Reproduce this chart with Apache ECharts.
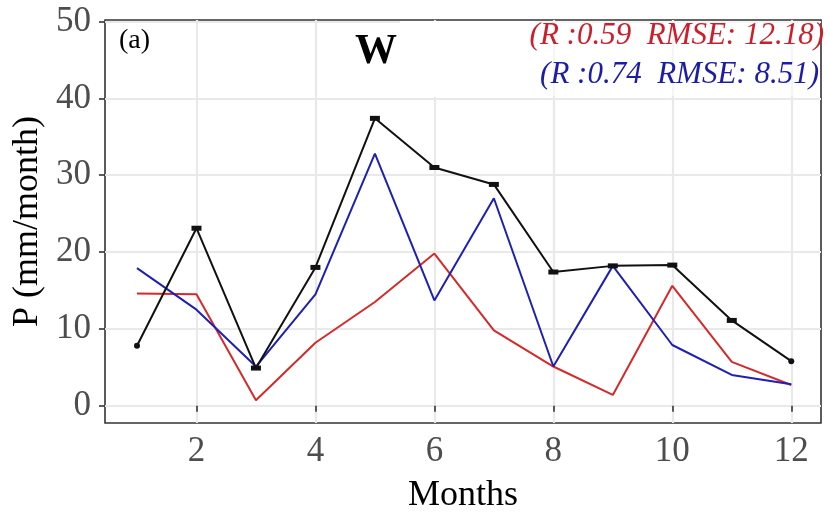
<!DOCTYPE html>
<html>
<head>
<meta charset="utf-8">
<script src="https://cdn.jsdelivr.net/npm/echarts@6/dist/echarts.min.js"></script>
<style>
  html, body { margin: 0; padding: 0; background: #fff; }
  #chart { width: 828px; height: 514px; }
</style>
</head>
<body>
<div id="chart"></div>
<script>
// Monthly precipitation, station W
const months = [1, 2, 3, 4, 5, 6, 7, 8, 9, 10, 11, 12];
const observed = [7.8, 23.1, 4.9, 18.0, 37.4, 31.0, 28.8, 17.4, 18.2, 18.3, 11.1, 5.8];
const modelRed = [14.6, 14.5, 0.7, 8.2, 13.5, 19.8, 9.8, 5.1, 1.4, 15.6, 5.7, 2.7];
const modelBlue = [17.9, 12.5, 5.1, 14.5, 32.8, 13.7, 27.0, 5.1, 18.2, 7.9, 4.0, 2.8];
const xTicks = [2, 4, 6, 8, 10, 12];
const yTicks = [0, 10, 20, 30, 40, 50];
const statsRed = '(R :0.59  RMSE: 12.18)';
const statsBlue = '(R :0.74  RMSE: 8.51)';

const pairs = vals => months.map((m, i) => [m, vals[i]]);
const serif = '"Liberation Serif", "Times New Roman", serif';

const chart = echarts.init(document.getElementById('chart'), null, { renderer: 'canvas' });

chart.setOption({
  animation: false,
  backgroundColor: '#ffffff',
  grid: {
    left: 105, right: 7, top: 20, bottom: 91,
    outerBoundsMode: 'none',
    containLabel: false,
    show: true, borderColor: '#333333', borderWidth: 1.6,
    backgroundColor: 'transparent'
  },
  xAxis: {
    type: 'value',
    min: 0.462, max: 12.5,
    name: 'Months',
    nameLocation: 'middle',
    nameGap: 55,
    nameTextStyle: { fontFamily: serif, fontSize: 36, color: '#000' },
    axisLine: { show: false },
    axisTick: { show: true, length: 6, customValues: xTicks, lineStyle: { color: '#333', width: 1.6 } },
    axisLabel: { customValues: xTicks, fontFamily: serif, fontSize: 35, color: '#4d4d4d', margin: 11 },
    splitLine: { show: true, lineStyle: { color: '#e9e9e9', width: 2.2 } }
  },
  yAxis: {
    type: 'value',
    min: -2.25, max: 50.2,
    name: 'P (mm/month)',
    nameLocation: 'middle',
    nameGap: 57,
    nameRotate: 90,
    nameTextStyle: { fontFamily: serif, fontSize: 36, color: '#000' },
    axisLine: { show: false },
    axisTick: { show: true, length: 6, customValues: yTicks, lineStyle: { color: '#333', width: 1.6 } },
    axisLabel: { customValues: yTicks, fontFamily: serif, fontSize: 35, color: '#4d4d4d', margin: 14 },
    splitLine: { show: true, lineStyle: { color: '#e9e9e9', width: 2.2 } }
  },
  graphic: [
    // backdrop behind the annotation block
    { type: 'rect', z: 1, shape: { x: 400, y: 21, width: 135, height: 76 }, style: { fill: '#ffffff' } },
    { type: 'rect', z: 1, shape: { x: 535, y: 21, width: 285, height: 75 }, style: { fill: 'rgba(255,255,255,0.55)' } },
    { type: 'text', z: 10, left: 119, top: 27,
      style: { text: '(a)', fontFamily: serif, fontSize: 28, fill: '#000' } },
    { type: 'text', z: 10, x: 376, y: 52,
      style: { text: 'W', fontFamily: serif, fontSize: 42, fontWeight: 'bold', fill: '#000',
               textAlign: 'center', textVerticalAlign: 'middle' } },
    { type: 'text', z: 10, x: 824, y: 36,
      style: { text: statsRed, fontFamily: serif, fontSize: 31, fontStyle: 'italic', fill: '#cc1f2b',
               textAlign: 'right', textVerticalAlign: 'middle' } },
    { type: 'text', z: 10, x: 819, y: 75,
      style: { text: statsBlue, fontFamily: serif, fontSize: 31, fontStyle: 'italic', fill: '#1c1ca6',
               textAlign: 'right', textVerticalAlign: 'middle' } }
  ],
  series: [
    {
      type: 'line', data: pairs(modelRed), z: 3,
      showSymbol: false, symbol: 'none',
      lineStyle: { color: '#d42a2a', width: 2 }
    },
    {
      type: 'line', data: pairs(modelBlue), z: 4,
      showSymbol: false, symbol: 'none',
      lineStyle: { color: '#1f1fb4', width: 2 }
    },
    {
      type: 'line', data: pairs(observed), z: 5,
      symbol: (v, p) => (p.dataIndex === 0 || p.dataIndex === months.length - 1) ? 'circle' : 'rect',
      symbolSize: (v, p) => (p.dataIndex === 0 || p.dataIndex === months.length - 1) ? 6 : [10, 5],
      itemStyle: { color: '#111111' },
      lineStyle: { color: '#111111', width: 2 }
    }
  ]
});
</script>
</body>
</html>
